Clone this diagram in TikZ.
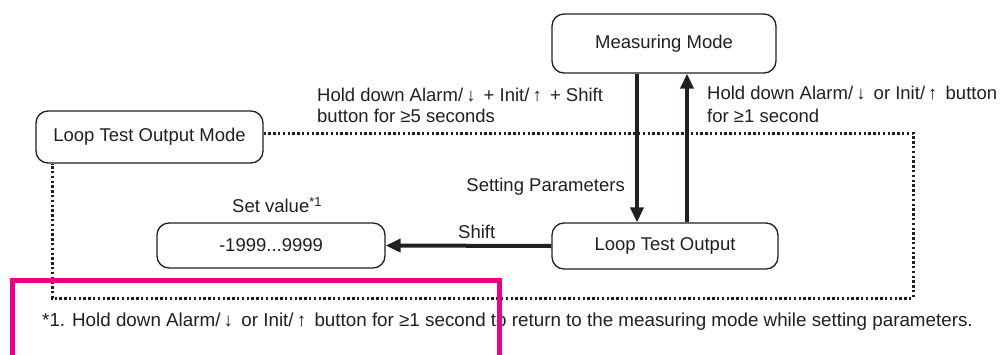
\documentclass[tikz,border=0pt]{standalone}
\usepackage{fontspec}
\setmainfont{Liberation Sans}
\usetikzlibrary{arrows.meta}
\definecolor{ink}{RGB}{35,31,32}
\definecolor{hilite}{RGB}{232,0,135}
\tikzset{
  modebox/.style={draw=ink, line width=1.3pt, rounded corners=12pt, text=ink, inner sep=0pt},
  lbl/.style={text=ink, inner sep=0pt, align=left},
  thickarrow/.style={draw=ink, line width=4pt, -{Triangle[length=15pt,width=13pt]}},
  dotline/.style={draw=ink, line width=3pt, dash pattern=on 2.4pt off 2.4pt},
}
\begin{document}
\begin{tikzpicture}[x=1pt,y=-1pt,font=\fontsize{18.5}{22}\selectfont]
\useasboundingbox (0,0) rectangle (1000,354);
% boxes
\node[modebox, minimum width=224pt, minimum height=59pt] (mm) at (664,43.5) {Measuring Mode};
\node[modebox, minimum width=227pt, minimum height=52pt] (ltom) at (149.5,137) {Loop Test Output Mode};
\node[modebox, minimum width=228pt, minimum height=45pt] (sv) at (271,245.5) {-1999...9999};
\node[modebox, minimum width=226pt, minimum height=46pt] (lto) at (665,246) {Loop Test Output};
% dotted loop
\coordinate (c1) at (913,133);
\coordinate (c2) at (913,298);
\coordinate (c3) at (52,298);
\draw[dotline] (ltom.east |- 0,133) -- (c1) -- (c2) -- (c3) -- (c3 |- ltom.south);
% arrows
\draw[thickarrow] (mm.south -| 637,0) -- (lto.north -| 637,0);
\draw[thickarrow] (lto.north -| 687,0) -- (mm.south -| 687,0);
\draw[thickarrow] (lto.west) -- (sv.east);
% labels
\node[lbl, anchor=west] (t1) at (317,95) {Hold down Alarm/\,↓\, + Init/\,↑\, + Shift};
\node[lbl, anchor=west] (t2) at (317,116) {button for ≥5 seconds};
\node[lbl, anchor=west] (t3) at (707,93) {Hold down Alarm/\,↓\, or Init/\,↑\, button};
\node[lbl, anchor=west] (t4) at (707,116) {for ≥1 second};
\node[lbl, anchor=east] (t5) at (625,187) {Setting Parameters};
\node[lbl, anchor=west] (t6) at (232,205) {Set value\textsuperscript{*1}};
\node[lbl, anchor=west] (t7) at (458,232) {Shift};
\node[lbl, anchor=west, font=\fontsize{18.8}{22}\selectfont] (t8) at (42,322) {*1. Hold down Alarm/\,↓\, or Init/\,↑\, button for ≥1 second to return to the measuring mode while setting parameters.};
% highlight
\draw[hilite, line width=5pt] (12,360) -- (12,280.5) -- (499,280.5) -- (499,360);
\end{tikzpicture}
\end{document}
